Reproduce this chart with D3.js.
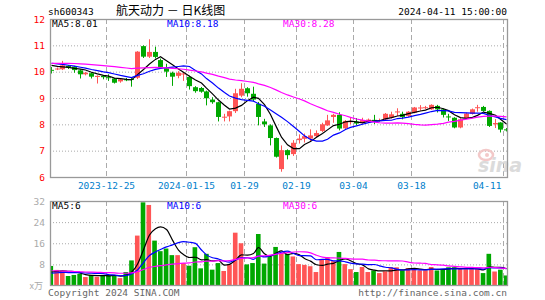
<!DOCTYPE html>
<html>
<head>
<meta charset="utf-8">
<script src="https://cdn.jsdelivr.net/npm/d3@7"></script>
<style>
  body { margin: 0; background: #fff; }
  svg text { font-family: "DejaVu Sans Mono", monospace; font-size: 9.5px; }
</style>
</head>
<body>
<svg id="chart" width="545" height="300"></svg>
<script>
// trading days shown (80)
var dates = [
  "2023-12-11","2023-12-12","2023-12-13","2023-12-14","2023-12-15","2023-12-18","2023-12-19","2023-12-20","2023-12-21","2023-12-22",
  "2023-12-25","2023-12-26","2023-12-27","2023-12-28","2023-12-29","2024-01-02","2024-01-03","2024-01-04","2024-01-05","2024-01-08",
  "2024-01-09","2024-01-10","2024-01-11","2024-01-12","2024-01-15","2024-01-16","2024-01-17","2024-01-18","2024-01-19","2024-01-22",
  "2024-01-23","2024-01-24","2024-01-25","2024-01-26","2024-01-29","2024-01-30","2024-01-31","2024-02-01","2024-02-02","2024-02-05",
  "2024-02-06","2024-02-07","2024-02-08","2024-02-19","2024-02-20","2024-02-21","2024-02-22","2024-02-23","2024-02-26","2024-02-27",
  "2024-02-28","2024-02-29","2024-03-01","2024-03-04","2024-03-05","2024-03-06","2024-03-07","2024-03-08","2024-03-11","2024-03-12",
  "2024-03-13","2024-03-14","2024-03-15","2024-03-18","2024-03-19","2024-03-20","2024-03-21","2024-03-22","2024-03-25","2024-03-26",
  "2024-03-27","2024-03-28","2024-03-29","2024-04-01","2024-04-02","2024-04-03","2024-04-08","2024-04-09","2024-04-10","2024-04-11"
];
var open = [10.07,10.10,10.09,10.22,10.19,10.05,9.90,9.94,9.80,9.84, 9.79,9.74,9.63,9.71,9.72,9.77,10.97,10.57,10.75,10.44,
  10.13,9.96,9.84,9.90,9.80,9.41,9.38,9.25,8.94,8.84, 8.26,8.30,8.50,9.09,9.37,9.16,8.78,8.11,7.96,7.48,
  6.30,7.02,6.87,7.40,7.45,7.46,7.55,7.75,7.96,8.28, 8.36,7.85,8.08,8.10,8.07,8.10,8.17,8.14,8.19,8.26,
  8.47,8.40,8.32,8.44,8.62,8.63,8.57,8.70,8.57,8.30, 8.25,7.88,8.24,8.40,8.63,8.66,8.51,8.00,8.07,7.81];
var high = [10.18,10.16,10.41,10.25,10.22,10.08,9.99,9.97,9.86,9.87, 9.90,9.76,9.75,9.76,9.76,10.78,11.00,11.23,10.95,10.50,
  10.30,10.00,10.02,9.98,9.85,9.45,9.42,9.28,9.03,8.86, 8.40,8.52,9.35,9.56,9.41,9.43,8.85,8.21,8.00,7.50,
  7.20,7.05,7.40,7.62,7.65,7.81,7.77,8.06,8.36,8.40, 8.46,8.16,8.28,8.24,8.25,8.22,8.36,8.22,8.43,8.48,
  8.61,8.48,8.50,8.66,8.73,8.70,8.76,8.74,8.60,8.40, 8.27,8.23,8.45,8.60,8.74,8.70,8.53,8.20,8.08,7.86];
var low = [9.93,10.06,10.06,10.10,9.96,9.74,9.86,9.74,9.55,9.71, 9.65,9.55,9.58,9.64,9.43,9.72,10.52,10.52,10.50,10.12,
  9.80,9.46,9.75,9.65,9.32,9.20,9.20,8.72,8.78,8.11, 8.11,8.11,8.43,9.03,9.05,8.88,7.96,7.90,7.20,6.74,
  6.20,6.67,6.80,7.27,7.31,7.33,7.50,7.71,7.94,8.06, 7.77,7.82,8.00,7.97,8.03,8.06,8.01,8.10,8.16,8.22,
  8.32,8.19,8.28,8.42,8.52,8.58,8.55,8.45,8.26,8.13, 7.85,7.85,8.20,8.37,8.48,8.48,7.90,7.86,7.69,7.73];
var close = [10.04,10.12,10.24,10.16,10.06,9.90,9.96,9.81,9.84,9.79, 9.77,9.58,9.71,9.69,9.69,10.76,10.57,10.75,10.56,10.18,
  10.00,9.81,9.96,9.93,9.45,9.26,9.24,8.99,8.84,8.28, 8.29,8.50,9.18,9.35,9.18,8.94,8.28,8.00,7.48,6.77,
  7.02,6.83,7.30,7.46,7.55,7.58,7.67,8.00,8.15,8.36, 7.84,8.13,8.12,8.03,8.16,8.18,8.15,8.16,8.40,8.38,
  8.49,8.28,8.48,8.64,8.64,8.65,8.74,8.57,8.36,8.28, 7.88,8.19,8.41,8.57,8.65,8.51,7.94,8.05,7.80,7.77];
// volume, in 10k lots
var volume = [7.4,5.9,5.5,3.6,4.0,4.4,3.2,3.9,3.3,4.0, 3.9,3.9,2.8,5.1,9.5,18.9,31.5,30.5,17.0,13.0,
  14.0,11.5,11.5,8.5,7.5,14.5,6.5,12.0,6.0,8.5, 5.5,8.0,20.0,16.0,8.0,8.5,19.5,8.3,11.0,14.6,
  12.3,12.0,11.0,8.1,7.8,7.3,5.1,9.7,10.7,9.2, 12.7,8.1,6.2,5.1,7.0,5.1,5.7,4.7,5.4,6.9,
  6.9,5.7,6.6,6.2,5.7,5.7,7.0,5.7,6.2,6.9, 6.9,6.2,6.2,6.2,6.2,4.7,12.0,5.3,6.0,3.8];
// earlier sessions, only used to start the moving averages
var prevCloses = [10.05,10.12,10.20,10.28,10.35,10.30,10.42,10.38,10.30,10.25,10.33,10.45,10.40,10.36,10.28,
  10.30,10.38,10.42,10.35,10.28,10.36,10.44,10.48,10.40,10.32,10.30,10.34,10.28,10.24];
var prevVolumes = [8.5,7.2,6.4,5.8,7.5,6.1,5.2,4.9,6.8,5.5,6.3,7.0,5.4,4.8,5.9,
  6.6,5.1,5.7,6.2,4.1,4.6,4.0,4.5,4.2,4.2,4.8,4.3,4.6,4.4];

var tickDates = ["2023-12-25","2024-01-15","2024-01-29","2024-02-19","2024-03-04","2024-03-18","2024-04-11"];
var tickLabels = ["2023-12-25","2024-01-15","01-29","02-19","03-04","03-18","04-11"];
var priceTicks = [6, 7, 8, 9, 10, 11, 12];
var volumeTicks = [8, 16, 24, 32];
var maPeriods = [5, 10, 30];
var maColors = ["#000000", "#0000ff", "#ff00ff"];

var up = "#ff5555", down = "#00a800", gridColor = "#aaaaaa", frameColor = "#999999";
var left = 50, right = 507;
var svg = d3.select("#chart");

var x = d3.scaleBand()
    .domain(d3.range(dates.length))
    .range([48.5, 508.4])
    .paddingInner(0.2);
var cx = function(i) { return Math.round(x(i) + x.bandwidth() / 2) + 0.5; };

var y = d3.scaleLinear().domain([6, 12]).range([177, 19]);
var yv = d3.scaleLinear().domain([0, 32]).range([285.5, 201]);

// moving averages over the shown range
function movingAvg(prev, vals, n) {
  var all = prev.concat(vals), off = prev.length;
  return vals.map(function(v, i) {
    return d3.mean(all.slice(off + i - n + 1, off + i + 1));
  });
}
var priceMA = maPeriods.map(function(n) { return movingAvg(prevCloses, close, n); });
var volMA = maPeriods.map(function(n) { return movingAvg(prevVolumes, volume, n); });

svg.append("defs").append("clipPath").attr("id", "clipMain")
  .append("rect").attr("x", left).attr("y", 19).attr("width", right - left).attr("height", 158);
svg.select("defs").append("clipPath").attr("id", "clipVol")
  .append("rect").attr("x", left).attr("y", 201).attr("width", right - left).attr("height", 84.5);

// header
svg.append("text").attr("x", 48).attr("y", 15).text("sh600343");
svg.append("text").attr("x", 116).attr("y", 15)
    .style("font-family", "'Noto Sans CJK SC', sans-serif").style("font-size", "12px")
    .text("航天动力 － 日K线图");
svg.append("text").attr("x", 507).attr("y", 15).attr("text-anchor", "end").text("2024-04-11 15:00:00");

// price grid + labels
var gy = svg.append("g").attr("transform", "translate(" + left + ",0)")
    .call(d3.axisLeft(y).tickValues(priceTicks).tickSize(-(right - left)).tickFormat(d3.format("d")));
gy.select(".domain").remove();
gy.selectAll(".tick line")
    .attr("stroke", gridColor).attr("stroke-dasharray", "1,2")
    .style("display", function(d) { return d === 6 || d === 12 ? "none" : null; });
gy.selectAll(".tick text").attr("x", -5).attr("fill", "#ff0000").style("font-size", "9.5px")
    .style("font-family", "'DejaVu Sans Mono', monospace");

// volume grid + labels
var gv = svg.append("g").attr("transform", "translate(" + left + ",0)")
    .call(d3.axisLeft(yv).tickValues(volumeTicks).tickSize(-(right - left)).tickFormat(d3.format("d")));
gv.select(".domain").remove();
gv.selectAll(".tick line")
    .attr("stroke", gridColor).attr("stroke-dasharray", "1,2")
    .style("display", function(d) { return d === 32 ? "none" : null; });
gv.selectAll(".tick text").attr("x", -5).attr("fill", "#aaaaaa").style("font-size", "9.5px")
    .style("font-family", "'DejaVu Sans Mono', monospace");
svg.append("text").attr("x", 43).attr("y", 289).attr("text-anchor", "end")
    .attr("fill", "#aaaaaa").style("font-family", "'Noto Sans CJK SC', sans-serif").style("font-size", "9px")
    .text("x万");

// vertical dashed grid at the date ticks
var tickIdx = tickDates.map(function(d) { return dates.indexOf(d); });
var vx = function(i) { return Math.round(x(i) - x.step() * x.paddingInner() / 2) + 0.5; };
[[19, 177], [201, 285.5]].forEach(function(r) {
  svg.append("g").selectAll("line").data(tickIdx).join("line")
      .attr("x1", vx).attr("x2", vx).attr("y1", r[0]).attr("y2", r[1])
      .attr("stroke", gridColor).attr("stroke-dasharray", "5,3");
});

// date labels
svg.append("g").selectAll("text").data(tickIdx).join("text")
    .attr("x", function(d, k) { return k === tickIdx.length - 1 ? vx(d) - 2 : vx(d); })
    .attr("y", 189)
    .attr("text-anchor", function(d, k) { return k === tickIdx.length - 1 ? "end" : "middle"; })
    .attr("fill", "#0080cc")
    .text(function(d, k) { return tickLabels[k]; });

// sina watermark
var wm = svg.append("g").attr("opacity", 0.9);
wm.append("ellipse").attr("cx", 486).attr("cy", 155).attr("rx", 7).attr("ry", 5)
    .attr("fill", "none").attr("stroke", "#f2c4c4").attr("stroke-width", 2.5);
wm.append("circle").attr("cx", 487).attr("cy", 155).attr("r", 2).attr("fill", "#f2c4c4");
wm.append("text").attr("x", 478).attr("y", 172)
    .style("font-family", "'DejaVu Sans', sans-serif").style("font-size", "19px")
    .style("font-weight", "bold").style("font-style", "italic")
    .attr("fill", "#d8d8d8").text("sina");

// candles
var idx = d3.range(dates.length);
var isUp = function(i) { return close[i] >= open[i]; };
var candles = svg.append("g").attr("clip-path", "url(#clipMain)");
candles.selectAll("line.wick").data(idx).join("line").attr("class", "wick")
    .attr("x1", cx).attr("x2", cx)
    .attr("y1", function(i) { return y(high[i]); })
    .attr("y2", function(i) { return y(low[i]); })
    .attr("stroke", function(i) { return isUp(i) ? up : down; });
candles.selectAll("rect.body").data(idx).join("rect").attr("class", "body")
    .attr("x", function(i) { return cx(i) - 2.5; })
    .attr("width", 5)
    .attr("y", function(i) { return y(Math.max(open[i], close[i])); })
    .attr("height", function(i) { return Math.max(1, Math.abs(y(open[i]) - y(close[i]))); })
    .attr("fill", function(i) { return isUp(i) ? up : down; });

// price moving averages
var maLine = d3.line().x(function(d, i) { return cx(i); }).y(function(d) { return y(d); });
svg.append("g").attr("clip-path", "url(#clipMain)").selectAll("path").data(priceMA).join("path")
    .attr("d", maLine).attr("fill", "none").attr("stroke-width", 1.2)
    .attr("stroke", function(d, k) { return maColors[k]; });

// volume bars
svg.append("g").attr("clip-path", "url(#clipVol)").selectAll("rect").data(idx).join("rect")
    .attr("x", function(i) { return x(i); })
    .attr("width", x.bandwidth())
    .attr("y", function(i) { return yv(volume[i]); })
    .attr("height", function(i) { return yv(0) - yv(volume[i]); })
    .attr("fill", function(i) { return isUp(i) ? up : down; });

var volLine = d3.line().x(function(d, i) { return cx(i); }).y(function(d) { return yv(d); })
    .curve(d3.curveMonotoneX);
svg.append("g").attr("clip-path", "url(#clipVol)").selectAll("path").data(volMA).join("path")
    .attr("d", volLine).attr("fill", "none").attr("stroke-width", 1.2)
    .attr("stroke", function(d, k) { return maColors[k]; });

// frames
svg.append("rect").attr("x", left + 0.5).attr("y", 19.5).attr("width", right - left).attr("height", 158)
    .attr("fill", "none").attr("stroke", frameColor).attr("stroke-width", 1.3);
svg.append("rect").attr("x", left + 0.5).attr("y", 201.5).attr("width", right - left).attr("height", 84)
    .attr("fill", "none").attr("stroke", frameColor).attr("stroke-width", 1.3);

// MA legends
var legX = [52, 167, 283];
var f2 = d3.format(".2f"), f0 = d3.format(".0f");
maPeriods.forEach(function(n, k) {
  svg.append("text").attr("x", legX[k]).attr("y", 27).attr("fill", maColors[k])
      .text("MA" + n + ":" + f2(priceMA[k][close.length - 1]));
  svg.append("text").attr("x", legX[k]).attr("y", 209).attr("fill", maColors[k])
      .text("MA" + n + ":" + f0(Math.floor(volMA[k][volume.length - 1])));
});

// footer
svg.append("text").attr("x", 48).attr("y", 296).attr("fill", "#666666").text("Copyright 2024 SINA.COM");
svg.append("text").attr("x", 507).attr("y", 296).attr("text-anchor", "end").attr("fill", "#666666")
    .text("http://finance.sina.com.cn");
</script>
</body>
</html>
